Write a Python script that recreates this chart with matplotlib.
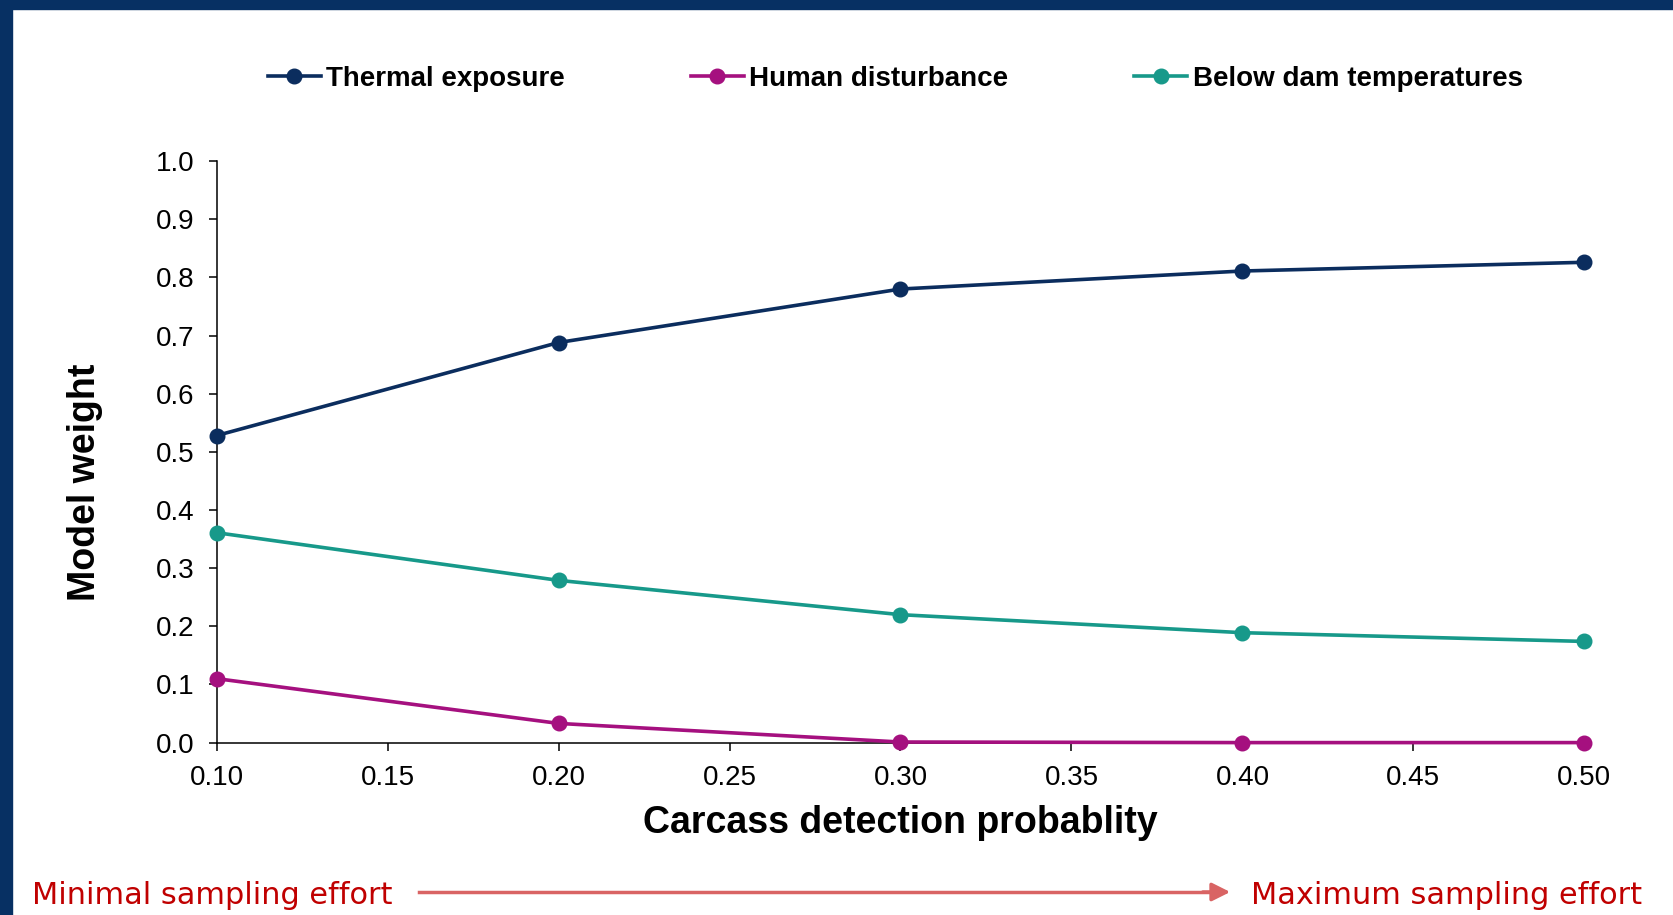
import matplotlib.pyplot as plt
from matplotlib.patches import Rectangle

# data
detection_prob = [0.10, 0.20, 0.30, 0.40, 0.50]
thermal = [0.528, 0.688, 0.780, 0.811, 0.826]
human = [0.110, 0.033, 0.001, 0.000, 0.000]
below_dam = [0.361, 0.279, 0.220, 0.189, 0.174]
series_names = ["Thermal exposure", "Human disturbance", "Below dam temperatures"]
series_colors = ["#0b2d5e", "#a5107f", "#17998a"]

plt.rcParams['font.family'] = ['Liberation Sans', 'DejaVu Sans']

fig = plt.figure(figsize=(16.73, 9.15), dpi=100)
W, H = 1673, 915

# navy frame on top and left
fig.patches.append(Rectangle((0, 1 - 9 / H), 1, 9 / H, transform=fig.transFigure,
                             color="#073063", zorder=0))
fig.patches.append(Rectangle((0, 0), 12 / W, 1, transform=fig.transFigure,
                             color="#073063", zorder=0))

ax = fig.add_axes([216.6 / W, 172.4 / H, 1367.8 / W, 581.5 / H])

for vals, name, col in zip([thermal, human, below_dam], series_names, series_colors):
    ax.plot(detection_prob, vals, color=col, lw=2.6, marker="o", ms=10.5,
            label=name, clip_on=False, zorder=3)

ax.set_xlim(0.10, 0.50)
ax.set_ylim(0.0, 1.0)
ax.set_xticks([0.10, 0.15, 0.20, 0.25, 0.30, 0.35, 0.40, 0.45, 0.50])
ax.set_yticks([i / 10 for i in range(11)])
ax.xaxis.set_major_formatter(plt.FormatStrFormatter("%.2f"))
ax.yaxis.set_major_formatter(plt.FormatStrFormatter("%.1f"))
ax.tick_params(axis="both", direction="out", length=6, width=1.1, labelsize=20,
               colors="black")
ax.tick_params(axis="y", pad=10)
ax.tick_params(axis="x", pad=10)
for s in ["top", "right"]:
    ax.spines[s].set_visible(False)
for s in ["left", "bottom"]:
    ax.spines[s].set_linewidth(1.1)

ax.set_xlabel("Carcass detection probablity", fontsize=27, fontweight="bold", labelpad=10)
fig.text(85 / W, 1 - 482 / H, "Model weight", fontsize=27, fontweight="bold",
         rotation=90, ha="center", va="center")

leg = fig.legend(loc="center left", bbox_to_anchor=(268 / W, 1 - 79 / H), ncol=3,
                 frameon=False, prop={"size": 20, "weight": "bold"},
                 handlelength=1.9, handletextpad=0.2, columnspacing=4.53,
                 borderaxespad=0, borderpad=0)

ann_col = "#c00000"
fig.text(32 / W, 1 - 895 / H, "Minimal sampling effort", color=ann_col, fontsize=21.9,
         family="DejaVu Sans", ha="left", va="center")
fig.text(1251 / W, 1 - 895 / H, "Maximum sampling effort", color=ann_col, fontsize=21.9,
         family="DejaVu Sans", ha="left", va="center")
fig.add_artist(plt.Line2D([419 / W, 1215 / W], [1 - 892 / H, 1 - 892 / H],
                          transform=fig.transFigure, color="#d96464", lw=2.5))
ax.annotate("", xy=(1233 / W, 1 - 892 / H), xytext=(1200 / W, 1 - 892 / H),
            xycoords="figure fraction", textcoords="figure fraction",
            arrowprops=dict(arrowstyle="-|>,head_length=1.1,head_width=0.55",
                            color="#d96464", lw=2.5))

fig.savefig("out.png", dpi=100)
